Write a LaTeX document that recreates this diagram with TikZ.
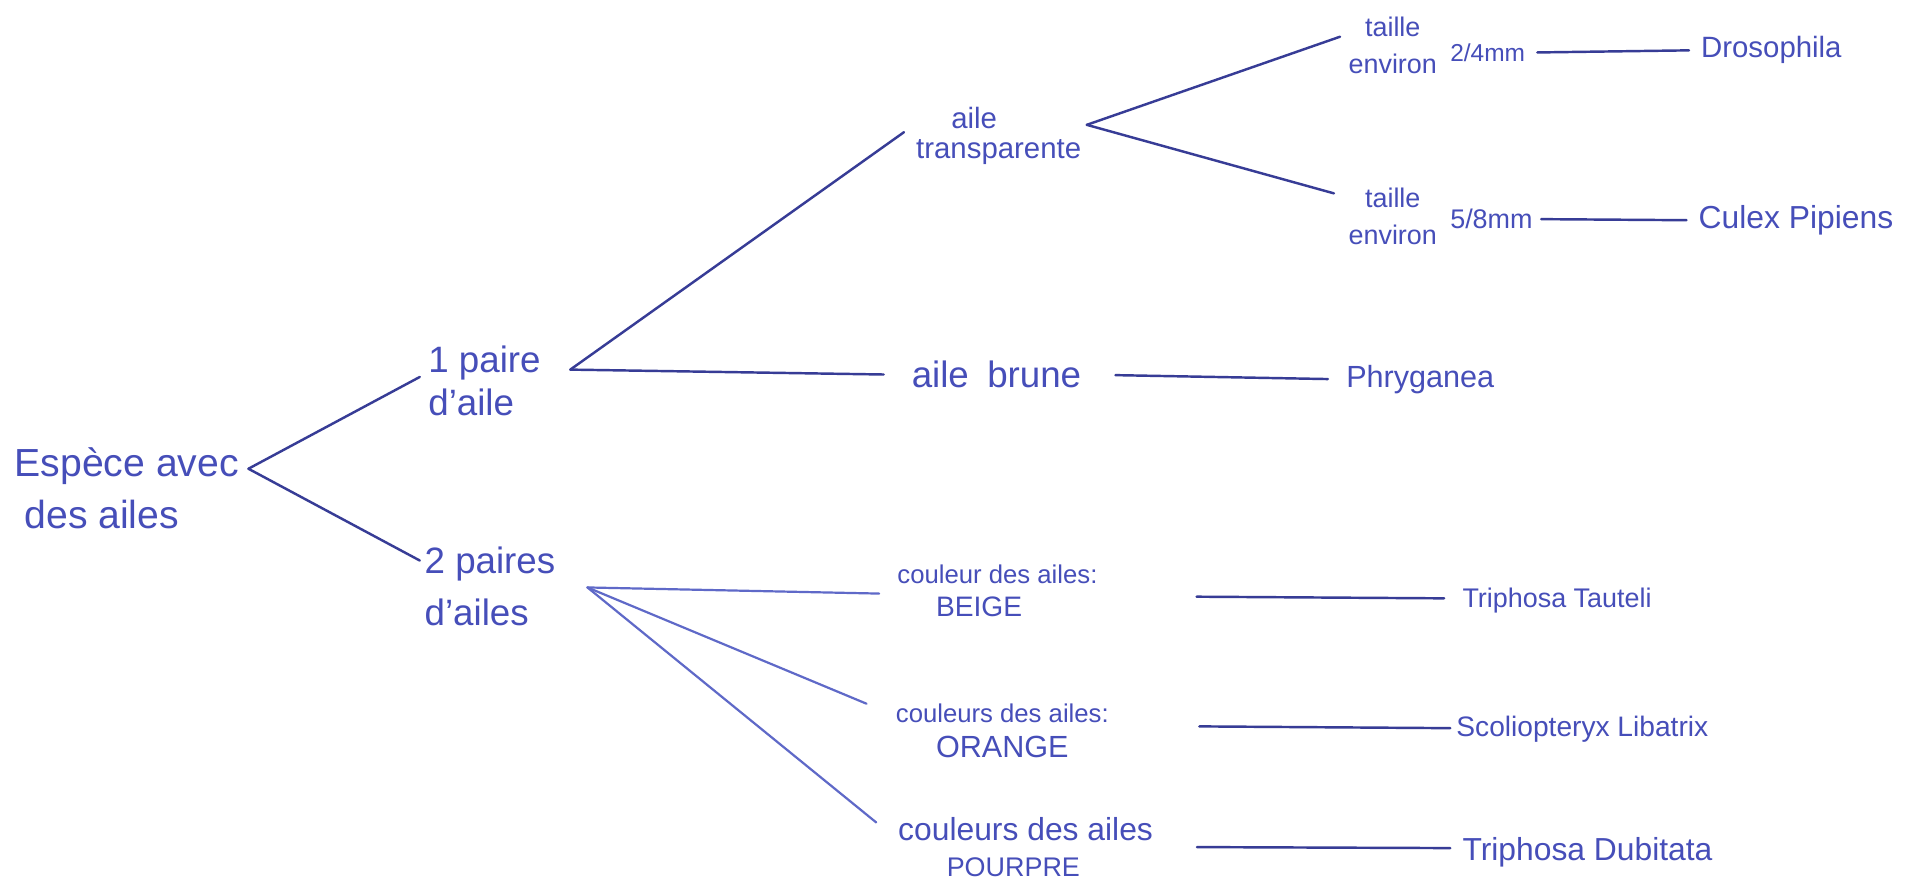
\documentclass[tikz,border=0pt]{standalone}
\usepackage{fontspec}
\setmainfont{Liberation Sans}
\definecolor{ink}{RGB}{70,78,185}
\definecolor{inkline}{RGB}{55,60,150}
\definecolor{inklight}{RGB}{95,105,200}
\newcommand{\fsk}[2]{\fontsize{#1}{#2}\selectfont}
\begin{document}
\begin{tikzpicture}[x=1pt,y=-1pt,
  lbl/.style={text=ink, inner sep=0pt, outer sep=0pt},
  conn/.style={draw=inkline, line width=2pt, line cap=round},
  connlight/.style={draw=inklight, line width=1.8pt, line cap=round}]
\useasboundingbox (0,0) rectangle (1568,723);
\fill[white] (0,0) rectangle (1568,723);
% nodes
\node[lbl, align=left, anchor=west, font=\fsk{32}{42}] (root) at (12,399) {Espèce avec\\\hspace*{8pt}des ailes};
\node[lbl, align=left, anchor=west, font=\fsk{30}{35}] (p1) at (350,311) {1 paire\\d'aile};
\node[lbl, align=left, anchor=west, font=\fsk{30}{42}] (p2) at (347,479) {2 paires\\d'ailes};
\node[lbl, align=center, font=\fsk{24}{24}] (transp) at (816,111) {\hspace*{-40pt}aile\\transparente};
\node[lbl, anchor=west, font=\fsk{30}{30}] (brune) at (745,306) {aile\hspace{0.5em}brune};
\node[lbl, anchor=west, font=\fsk{25}{25}] (phry) at (1100,310) {Phryganea};
\node[lbl, align=center, font=\fsk{22}{30}] (t1) at (1138,37) {taille\\environ};
\node[lbl, anchor=west, font=\fsk{20}{20}] (t1mm) at (1185,43) {2/4mm};
\node[lbl, anchor=west, font=\fsk{24}{24}] (droso) at (1390,41) {Drosophila};
\node[lbl, align=center, font=\fsk{22}{30}] (t2) at (1138,177) {taille\\environ};
\node[lbl, anchor=west, font=\fsk{22}{22}] (t2mm) at (1185,179) {5/8mm};
\node[lbl, anchor=west, font=\fsk{26}{26}] (culex) at (1388,180) {Culex Pipiens};
\node[lbl, align=center, font=\fsk{21}{27}] (beige) at (815,483) {couleur des ailes:\\\hspace*{-30pt}{\fsk{23}{27}BEIGE}};
\node[lbl, anchor=west, font=\fsk{22}{22}] (tauteli) at (1195,491) {Triphosa Tauteli};
\node[lbl, align=center, font=\fsk{21}{29}] (orange) at (819,597) {couleurs des ailes:\\{\fsk{25}{29}ORANGE}};
\node[lbl, anchor=west, font=\fsk{23}{23}] (libatrix) at (1190,596) {Scoliopteryx Libatrix};
\node[lbl, align=center, font=\fsk{26}{29}] (pourpre) at (838,692) {couleurs des ailes\\\hspace*{-20pt}{\fsk{22}{29}POURPRE}};
\node[lbl, anchor=west, font=\fsk{26}{26}] (dubitata) at (1195,696) {Triphosa Dubitata};
% junctions
\coordinate (v0) at (203,383);
\coordinate (v1) at (466,302);
\coordinate (v2) at (888,102);
\coordinate (v3) at (480,480);
% connectors
\draw[conn] (v0) -- ([xshift=-7pt,yshift=3pt]p1.west);
\draw[conn] (v0) -- ([xshift=-4pt,yshift=21pt]p2.west);
\draw[conn] (v1) -- ([xshift=-10pt,yshift=3pt]transp.west);
\draw[conn] (v1) -- ([xshift=-23pt]brune.west);
\draw[conn] (v2) -- ([xshift=-7pt,yshift=7pt]t1.west);
\draw[conn] (v2) -- ([xshift=-12pt,yshift=19pt]t2.west);
\draw[conn, shorten <=10pt, shorten >=10pt] (t1mm.east) -- (droso.west);
\draw[conn, shorten <=7pt, shorten >=10pt] (t2mm.east) -- (culex.west);
\draw[conn, shorten <=28pt, shorten >=15pt] (brune.east) -- (phry.west);
\draw[connlight] (v3) -- ([xshift=-15pt,yshift=-2pt]beige.west);
\draw[connlight] (v3) -- ([xshift=-24pt,yshift=22pt]orange.west);
\draw[connlight] (v3) -- ([xshift=-18pt,yshift=20pt]pourpre.west);
\draw[conn, shorten <=81pt, shorten >=15pt] ([yshift=-4pt]beige.east) -- ([yshift=2pt]tauteli.west);
\draw[conn, shorten <=74pt, shorten >=5pt] ([yshift=4pt]orange.east) -- ([yshift=1pt]libatrix.west);
\draw[conn, shorten <=36pt, shorten >=10pt] (pourpre.east) -- ([yshift=3pt]dubitata.west);
\end{tikzpicture}
\end{document}
